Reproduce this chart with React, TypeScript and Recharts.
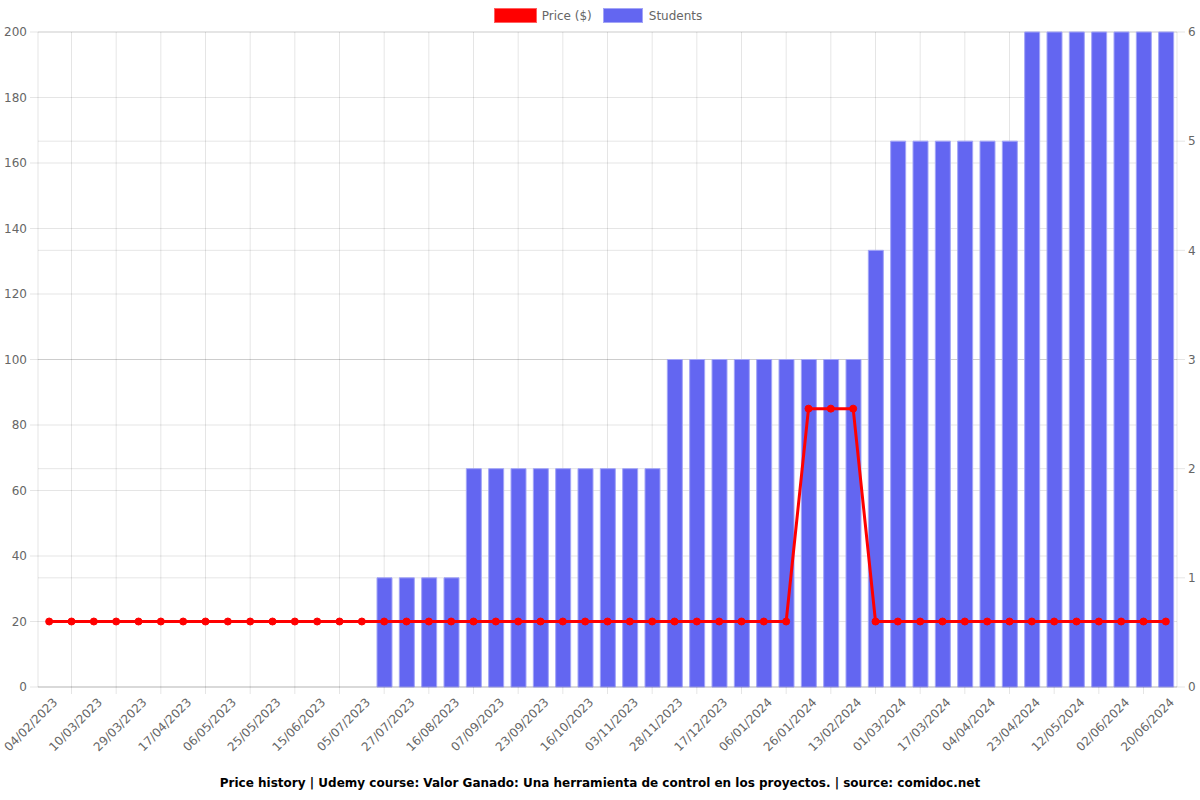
import React from 'react';
import { ComposedChart, Bar, Line, XAxis, YAxis, CartesianGrid } from 'recharts';

const dates: string[] = [
  '04/02/2023', '20/02/2023', '10/03/2023', '19/03/2023', '29/03/2023', '08/04/2023',
  '17/04/2023', '27/04/2023', '06/05/2023', '15/05/2023', '25/05/2023', '05/06/2023',
  '15/06/2023', '25/06/2023', '05/07/2023', '16/07/2023', '27/07/2023', '06/08/2023',
  '16/08/2023', '27/08/2023', '07/09/2023', '15/09/2023', '23/09/2023', '05/10/2023',
  '16/10/2023', '25/10/2023', '03/11/2023', '15/11/2023', '28/11/2023', '07/12/2023',
  '17/12/2023', '27/12/2023', '06/01/2024', '16/01/2024', '26/01/2024', '04/02/2024',
  '13/02/2024', '21/02/2024', '01/03/2024', '09/03/2024', '17/03/2024', '26/03/2024',
  '04/04/2024', '13/04/2024', '23/04/2024', '02/05/2024', '12/05/2024', '23/05/2024',
  '02/06/2024', '11/06/2024', '20/06/2024',
];

const prices: number[] = [
  20, 20, 20, 20, 20, 20, 20, 20, 20, 20,
  20, 20, 20, 20, 20, 20, 20, 20, 20, 20,
  20, 20, 20, 20, 20, 20, 20, 20, 20, 20,
  20, 20, 20, 20, 85, 85, 85, 20, 20, 20,
  20, 20, 20, 20, 20, 20, 20, 20, 20, 20,
  20,
];

const students: number[] = [
  0, 0, 0, 0, 0, 0, 0, 0, 0, 0,
  0, 0, 0, 0, 0, 1, 1, 1, 1, 2,
  2, 2, 2, 2, 2, 2, 2, 2, 3, 3,
  3, 3, 3, 3, 3, 3, 3, 4, 5, 5,
  5, 5, 5, 5, 6, 6, 6, 6, 6, 6,
  6,
];

const leftTicks: number[] = [0, 20, 40, 60, 80, 100, 120, 140, 160, 180, 200];
const rightTicks: number[] = [0, 1, 2, 3, 4, 5, 6];

const titleText =
  'Price history | Udemy course: Valor Ganado: Una herramienta de control en los proyectos. | source: comidoc.net';

const data = dates.map((d, i) => ({ date: d, price: prices[i], students: students[i] }));

const GRID = 'rgba(0,0,0,0.1)';
const FONT = '"DejaVu Sans", Verdana, sans-serif';

const XTick = (props: any) => {
  const { x, y, payload } = props;
  const off = payload && payload.offset ? payload.offset : 0;
  const isLast = payload && payload.index === dates.length - 1;
  const tx = x + 9;
  const ty = y + 8;
  return (
    <g>
      {!isLast && off > 0 && (
        <line x1={x + 2 * off} x2={x + 2 * off} y1={y - 8} y2={y - 1} stroke={GRID} />
      )}
      <text
        x={tx}
        y={ty}
        transform={`rotate(-45, ${tx}, ${ty})`}
        textAnchor="end"
        fontSize={12}
        fill="#666"
        fontFamily={FONT}
      >
        {payload.value}
      </text>
    </g>
  );
};

const vGen = (props: any) => {
  const { offset } = props;
  const pts: number[] = [offset.left, offset.left + offset.width];
  const bw = offset.width / dates.length;
  for (let i = 1; i < dates.length; i += 2) {
    pts.push(offset.left + bw * (i + 0.5));
  }
  return pts;
};

export default function App() {
  return (
    <div style={{ position: 'absolute', left: 0, top: 0, width: 1200, height: 800, background: '#fff' }}>
      <div
        style={{
          position: 'absolute',
          top: 8,
          left: -2,
          width: 1200,
          display: 'flex',
          justifyContent: 'center',
          alignItems: 'center',
          fontFamily: FONT,
          fontSize: 12,
          color: '#666',
        }}
      >
        <span style={{ display: 'inline-block', width: 41, height: 13, background: '#ff0000', border: '1px solid #ff6060', marginRight: 5 }} />
        <span style={{ marginRight: 11 }}>Price ($)</span>
        <span style={{ display: 'inline-block', width: 38, height: 13, background: '#6366f1', border: '1px solid #a3a5f7', marginRight: 6 }} />
        <span>Students</span>
      </div>
      <ComposedChart
        width={1200}
        height={800}
        data={data}
        margin={{ top: 32, right: 0, bottom: 0, left: 0 }}
        barCategoryGap={0}
      >
        <CartesianGrid
          yAxisId="left"
          stroke={GRID}
          horizontal={true}
          vertical={true}
          verticalCoordinatesGenerator={vGen}
        />
        <CartesianGrid yAxisId="right" stroke={GRID} horizontal={true} vertical={false} />
        <XAxis
          dataKey="date"
          interval={1}
          height={113}
          tickLine={false}
          axisLine={{ stroke: GRID }}
          tick={<XTick />}
        />
        <YAxis
          yAxisId="left"
          orientation="left"
          width={38}
          domain={[0, 200]}
          ticks={leftTicks}
          axisLine={false}
          tickLine={{ stroke: GRID }}
          tickSize={8}
          tickMargin={3}
          tick={{ fontSize: 12, fill: '#666', fontFamily: FONT }}
        />
        <YAxis
          yAxisId="right"
          orientation="right"
          width={23}
          domain={[0, 6]}
          ticks={rightTicks}
          axisLine={false}
          tickLine={{ stroke: GRID }}
          tickSize={8}
          tickMargin={3}
          tick={{ fontSize: 12, fill: '#666', fontFamily: FONT }}
        />
        <Bar
          yAxisId="right"
          dataKey="students"
          fill="#6366f1"
          stroke="#a3a5f7"
          strokeWidth={1}
          barSize={15}
          isAnimationActive={false}
        />
        <Line
          yAxisId="left"
          dataKey="price"
          type="linear"
          stroke="#ff0000"
          strokeWidth={3}
          dot={{ r: 3.5, fill: '#ff0000', stroke: '#ff0000', strokeWidth: 1 }}
          activeDot={false}
          isAnimationActive={false}
        />
      </ComposedChart>
      <div
        style={{
          position: 'absolute',
          top: 776,
          left: 0,
          width: 1200,
          textAlign: 'center',
          fontFamily: FONT,
          fontSize: 12,
          fontWeight: 'bold',
          color: '#000',
        }}
      >
        {titleText}
      </div>
    </div>
  );
}
